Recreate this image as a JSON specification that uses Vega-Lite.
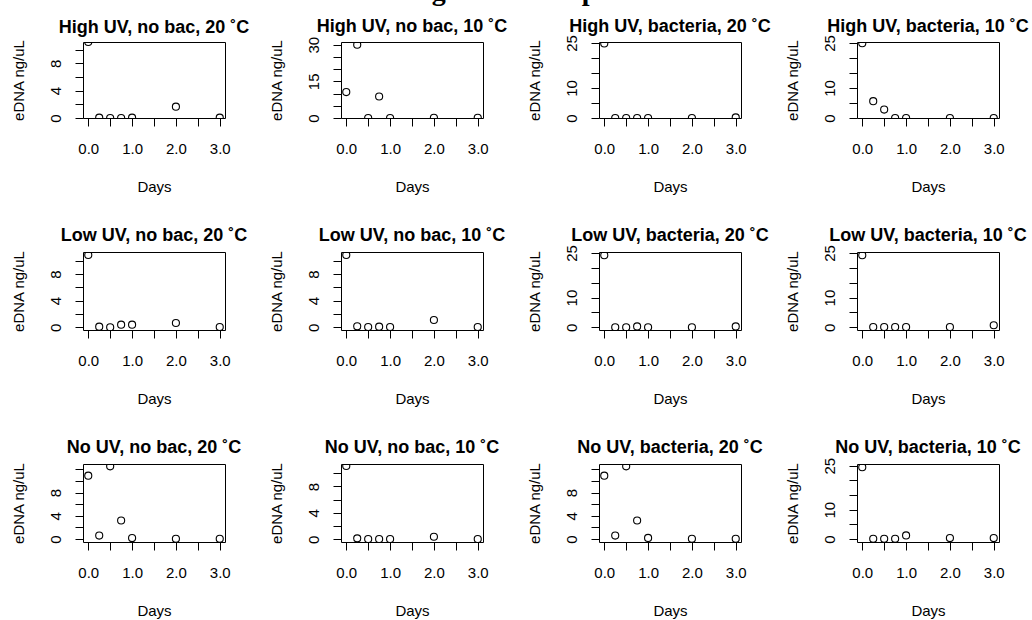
{
  "$schema": "https://vega.github.io/schema/vega-lite/v6.json",
  "padding": {"left": 10, "top": -22, "right": 0, "bottom": 0},
  "title": {"text": "eDNA degradation experiment", "font": "Liberation Serif", "fontSize": 28, "fontWeight": "bold", "anchor": "middle", "offset": -11, "dx": -12, "baseline": "alphabetic", "color": "black", "frame": "bounds"},
  "data": {"values": [
    {"panel": "High UV, no bac, 20 ˚C", "day": 0, "dna": 11.1},
    {"panel": "High UV, no bac, 20 ˚C", "day": 0.25, "dna": 0.05},
    {"panel": "High UV, no bac, 20 ˚C", "day": 0.5, "dna": 0.0},
    {"panel": "High UV, no bac, 20 ˚C", "day": 0.75, "dna": 0.0},
    {"panel": "High UV, no bac, 20 ˚C", "day": 1, "dna": 0.05},
    {"panel": "High UV, no bac, 20 ˚C", "day": 2, "dna": 1.65},
    {"panel": "High UV, no bac, 20 ˚C", "day": 3, "dna": 0.05},
    {"panel": "High UV, no bac, 10 ˚C", "day": 0, "dna": 10.6},
    {"panel": "High UV, no bac, 10 ˚C", "day": 0.25, "dna": 30.0},
    {"panel": "High UV, no bac, 10 ˚C", "day": 0.5, "dna": 0.0},
    {"panel": "High UV, no bac, 10 ˚C", "day": 0.75, "dna": 8.8},
    {"panel": "High UV, no bac, 10 ˚C", "day": 1, "dna": 0.0},
    {"panel": "High UV, no bac, 10 ˚C", "day": 2, "dna": 0.1},
    {"panel": "High UV, no bac, 10 ˚C", "day": 3, "dna": 0.1},
    {"panel": "High UV, bacteria, 20 ˚C", "day": 0, "dna": 24.8},
    {"panel": "High UV, bacteria, 20 ˚C", "day": 0.25, "dna": 0.0},
    {"panel": "High UV, bacteria, 20 ˚C", "day": 0.5, "dna": 0.0},
    {"panel": "High UV, bacteria, 20 ˚C", "day": 0.75, "dna": 0.0},
    {"panel": "High UV, bacteria, 20 ˚C", "day": 1, "dna": 0.0},
    {"panel": "High UV, bacteria, 20 ˚C", "day": 2, "dna": 0.0},
    {"panel": "High UV, bacteria, 20 ˚C", "day": 3, "dna": 0.2},
    {"panel": "High UV, bacteria, 10 ˚C", "day": 0, "dna": 24.9},
    {"panel": "High UV, bacteria, 10 ˚C", "day": 0.25, "dna": 5.6},
    {"panel": "High UV, bacteria, 10 ˚C", "day": 0.5, "dna": 2.8},
    {"panel": "High UV, bacteria, 10 ˚C", "day": 0.75, "dna": 0.0},
    {"panel": "High UV, bacteria, 10 ˚C", "day": 1, "dna": 0.0},
    {"panel": "High UV, bacteria, 10 ˚C", "day": 2, "dna": 0.0},
    {"panel": "High UV, bacteria, 10 ˚C", "day": 3, "dna": 0.0},
    {"panel": "Low UV, no bac, 20 ˚C", "day": 0, "dna": 10.85},
    {"panel": "Low UV, no bac, 20 ˚C", "day": 0.25, "dna": 0.1},
    {"panel": "Low UV, no bac, 20 ˚C", "day": 0.5, "dna": 0.0},
    {"panel": "Low UV, no bac, 20 ˚C", "day": 0.75, "dna": 0.4},
    {"panel": "Low UV, no bac, 20 ˚C", "day": 1, "dna": 0.4},
    {"panel": "Low UV, no bac, 20 ˚C", "day": 2, "dna": 0.65},
    {"panel": "Low UV, no bac, 20 ˚C", "day": 3, "dna": 0.05},
    {"panel": "Low UV, no bac, 10 ˚C", "day": 0, "dna": 10.85},
    {"panel": "Low UV, no bac, 10 ˚C", "day": 0.25, "dna": 0.15},
    {"panel": "Low UV, no bac, 10 ˚C", "day": 0.5, "dna": 0.05},
    {"panel": "Low UV, no bac, 10 ˚C", "day": 0.75, "dna": 0.1},
    {"panel": "Low UV, no bac, 10 ˚C", "day": 1, "dna": 0.05},
    {"panel": "Low UV, no bac, 10 ˚C", "day": 2, "dna": 1.1},
    {"panel": "Low UV, no bac, 10 ˚C", "day": 3, "dna": 0.05},
    {"panel": "Low UV, bacteria, 20 ˚C", "day": 0, "dna": 24.2},
    {"panel": "Low UV, bacteria, 20 ˚C", "day": 0.25, "dna": 0.0},
    {"panel": "Low UV, bacteria, 20 ˚C", "day": 0.5, "dna": 0.0},
    {"panel": "Low UV, bacteria, 20 ˚C", "day": 0.75, "dna": 0.3},
    {"panel": "Low UV, bacteria, 20 ˚C", "day": 1, "dna": 0.0},
    {"panel": "Low UV, bacteria, 20 ˚C", "day": 2, "dna": 0.0},
    {"panel": "Low UV, bacteria, 20 ˚C", "day": 3, "dna": 0.3},
    {"panel": "Low UV, bacteria, 10 ˚C", "day": 0, "dna": 24.2},
    {"panel": "Low UV, bacteria, 10 ˚C", "day": 0.25, "dna": 0.1},
    {"panel": "Low UV, bacteria, 10 ˚C", "day": 0.5, "dna": 0.1},
    {"panel": "Low UV, bacteria, 10 ˚C", "day": 0.75, "dna": 0.1},
    {"panel": "Low UV, bacteria, 10 ˚C", "day": 1, "dna": 0.1},
    {"panel": "Low UV, bacteria, 10 ˚C", "day": 2, "dna": 0.1},
    {"panel": "Low UV, bacteria, 10 ˚C", "day": 3, "dna": 0.7},
    {"panel": "No UV, no bac, 20 ˚C", "day": 0, "dna": 10.9},
    {"panel": "No UV, no bac, 20 ˚C", "day": 0.25, "dna": 0.6},
    {"panel": "No UV, no bac, 20 ˚C", "day": 0.5, "dna": 12.5},
    {"panel": "No UV, no bac, 20 ˚C", "day": 0.75, "dna": 3.2},
    {"panel": "No UV, no bac, 20 ˚C", "day": 1, "dna": 0.17},
    {"panel": "No UV, no bac, 20 ˚C", "day": 2, "dna": 0.05},
    {"panel": "No UV, no bac, 20 ˚C", "day": 3, "dna": 0.05},
    {"panel": "No UV, no bac, 10 ˚C", "day": 0, "dna": 11.1},
    {"panel": "No UV, no bac, 10 ˚C", "day": 0.25, "dna": 0.15},
    {"panel": "No UV, no bac, 10 ˚C", "day": 0.5, "dna": 0.05},
    {"panel": "No UV, no bac, 10 ˚C", "day": 0.75, "dna": 0.05},
    {"panel": "No UV, no bac, 10 ˚C", "day": 1, "dna": 0.05},
    {"panel": "No UV, no bac, 10 ˚C", "day": 2, "dna": 0.4},
    {"panel": "No UV, no bac, 10 ˚C", "day": 3, "dna": 0.05},
    {"panel": "No UV, bacteria, 20 ˚C", "day": 0, "dna": 10.9},
    {"panel": "No UV, bacteria, 20 ˚C", "day": 0.25, "dna": 0.6},
    {"panel": "No UV, bacteria, 20 ˚C", "day": 0.5, "dna": 12.5},
    {"panel": "No UV, bacteria, 20 ˚C", "day": 0.75, "dna": 3.2},
    {"panel": "No UV, bacteria, 20 ˚C", "day": 1, "dna": 0.2},
    {"panel": "No UV, bacteria, 20 ˚C", "day": 2, "dna": 0.05},
    {"panel": "No UV, bacteria, 20 ˚C", "day": 3, "dna": 0.05},
    {"panel": "No UV, bacteria, 10 ˚C", "day": 0, "dna": 24.5},
    {"panel": "No UV, bacteria, 10 ˚C", "day": 0.25, "dna": 0.1},
    {"panel": "No UV, bacteria, 10 ˚C", "day": 0.5, "dna": 0.1},
    {"panel": "No UV, bacteria, 10 ˚C", "day": 0.75, "dna": 0.1},
    {"panel": "No UV, bacteria, 10 ˚C", "day": 1, "dna": 1.25},
    {"panel": "No UV, bacteria, 10 ˚C", "day": 2, "dna": 0.35},
    {"panel": "No UV, bacteria, 10 ˚C", "day": 3, "dna": 0.35}
  ]},
  "bounds": "flush",
  "columns": 4,
  "spacing": {"row": 134, "column": 116},
  "concat": [
      {"title": {"text": "High UV, no bac, 20 ˚C", "offset": 2}, "width": 142, "height": 76,
       "transform": [{"filter": "datum.panel === 'High UV, no bac, 20 ˚C'"}],
       "mark": {"type": "point", "shape": "circle", "filled": false, "clip": true, "size": 50, "color": "black", "strokeWidth": 1.1, "opacity": 1},
       "encoding": {
         "x": {"field": "day", "type": "quantitative", "scale": {"domain": [-0.12, 3.12], "nice": false, "zero": false}, "axis": {"values": [0, 0.5, 1, 1.5, 2, 2.5, 3], "labelExpr": "datum.value % 1 === 0 ? format(datum.value, '.1f') : ''", "title": "Days"}},
         "y": {"field": "dna", "type": "quantitative", "scale": {"domain": [0, 11.1], "nice": false, "zero": false}, "axis": {"values": [0, 2, 4, 6, 8, 10], "labelExpr": "datum.value % 4 === 0 ? datum.label : ''", "title": "eDNA ng/uL"}}
       }},
      {"title": {"text": "High UV, no bac, 10 ˚C", "offset": 0}, "width": 142, "height": 76,
       "transform": [{"filter": "datum.panel === 'High UV, no bac, 10 ˚C'"}],
       "mark": {"type": "point", "shape": "circle", "filled": false, "clip": true, "size": 50, "color": "black", "strokeWidth": 1.1, "opacity": 1},
       "encoding": {
         "x": {"field": "day", "type": "quantitative", "scale": {"domain": [-0.12, 3.12], "nice": false, "zero": false}, "axis": {"values": [0, 0.5, 1, 1.5, 2, 2.5, 3], "labelExpr": "datum.value % 1 === 0 ? format(datum.value, '.1f') : ''", "title": "Days"}},
         "y": {"field": "dna", "type": "quantitative", "scale": {"domain": [0, 31.1], "nice": false, "zero": false}, "axis": {"values": [0, 5, 10, 15, 20, 25, 30], "labelExpr": "datum.value % 15 === 0 ? datum.label : ''", "title": "eDNA ng/uL"}}
       }},
      {"title": {"text": "High UV, bacteria, 20 ˚C", "offset": -1}, "width": 142, "height": 76,
       "transform": [{"filter": "datum.panel === 'High UV, bacteria, 20 ˚C'"}],
       "mark": {"type": "point", "shape": "circle", "filled": false, "clip": true, "size": 50, "color": "black", "strokeWidth": 1.1, "opacity": 1},
       "encoding": {
         "x": {"field": "day", "type": "quantitative", "scale": {"domain": [-0.12, 3.12], "nice": false, "zero": false}, "axis": {"values": [0, 0.5, 1, 1.5, 2, 2.5, 3], "labelExpr": "datum.value % 1 === 0 ? format(datum.value, '.1f') : ''", "title": "Days"}},
         "y": {"field": "dna", "type": "quantitative", "scale": {"domain": [0, 25.3], "nice": false, "zero": false}, "axis": {"values": [0, 5, 10, 15, 20, 25], "labelExpr": "indexof([0, 10, 25], datum.value) >= 0 ? datum.label : ''", "title": "eDNA ng/uL"}}
       }},
      {"title": {"text": "High UV, bacteria, 10 ˚C", "offset": -1}, "width": 142, "height": 76,
       "transform": [{"filter": "datum.panel === 'High UV, bacteria, 10 ˚C'"}],
       "mark": {"type": "point", "shape": "circle", "filled": false, "clip": true, "size": 50, "color": "black", "strokeWidth": 1.1, "opacity": 1},
       "encoding": {
         "x": {"field": "day", "type": "quantitative", "scale": {"domain": [-0.12, 3.12], "nice": false, "zero": false}, "axis": {"values": [0, 0.5, 1, 1.5, 2, 2.5, 3], "labelExpr": "datum.value % 1 === 0 ? format(datum.value, '.1f') : ''", "title": "Days"}},
         "y": {"field": "dna", "type": "quantitative", "scale": {"domain": [0, 25.3], "nice": false, "zero": false}, "axis": {"values": [0, 5, 10, 15, 20, 25], "labelExpr": "indexof([0, 10, 25], datum.value) >= 0 ? datum.label : ''", "title": "eDNA ng/uL"}}
       }},
      {"title": {"text": "Low UV, no bac, 20 ˚C", "offset": 5}, "width": 142, "height": 78,
       "transform": [{"filter": "datum.panel === 'Low UV, no bac, 20 ˚C'"}],
       "mark": {"type": "point", "shape": "circle", "filled": false, "clip": true, "size": 50, "color": "black", "strokeWidth": 1.1, "opacity": 1},
       "encoding": {
         "x": {"field": "day", "type": "quantitative", "scale": {"domain": [-0.12, 3.12], "nice": false, "zero": false}, "axis": {"values": [0, 0.5, 1, 1.5, 2, 2.5, 3], "labelExpr": "datum.value % 1 === 0 ? format(datum.value, '.1f') : ''", "title": "Days"}},
         "y": {"field": "dna", "type": "quantitative", "scale": {"domain": [-0.4, 11.3], "nice": false, "zero": false}, "axis": {"values": [0, 2, 4, 6, 8, 10], "labelExpr": "datum.value % 4 === 0 ? datum.label : ''", "title": "eDNA ng/uL"}}
       }},
      {"title": {"text": "Low UV, no bac, 10 ˚C", "offset": 5}, "width": 142, "height": 78,
       "transform": [{"filter": "datum.panel === 'Low UV, no bac, 10 ˚C'"}],
       "mark": {"type": "point", "shape": "circle", "filled": false, "clip": true, "size": 50, "color": "black", "strokeWidth": 1.1, "opacity": 1},
       "encoding": {
         "x": {"field": "day", "type": "quantitative", "scale": {"domain": [-0.12, 3.12], "nice": false, "zero": false}, "axis": {"values": [0, 0.5, 1, 1.5, 2, 2.5, 3], "labelExpr": "datum.value % 1 === 0 ? format(datum.value, '.1f') : ''", "title": "Days"}},
         "y": {"field": "dna", "type": "quantitative", "scale": {"domain": [-0.4, 11.3], "nice": false, "zero": false}, "axis": {"values": [0, 2, 4, 6, 8, 10], "labelExpr": "datum.value % 4 === 0 ? datum.label : ''", "title": "eDNA ng/uL"}}
       }},
      {"title": {"text": "Low UV, bacteria, 20 ˚C", "offset": 0}, "width": 142, "height": 78,
       "transform": [{"filter": "datum.panel === 'Low UV, bacteria, 20 ˚C'"}],
       "mark": {"type": "point", "shape": "circle", "filled": false, "clip": true, "size": 50, "color": "black", "strokeWidth": 1.1, "opacity": 1},
       "encoding": {
         "x": {"field": "day", "type": "quantitative", "scale": {"domain": [-0.12, 3.12], "nice": false, "zero": false}, "axis": {"values": [0, 0.5, 1, 1.5, 2, 2.5, 3], "labelExpr": "datum.value % 1 === 0 ? format(datum.value, '.1f') : ''", "title": "Days"}},
         "y": {"field": "dna", "type": "quantitative", "scale": {"domain": [-0.9, 25.3], "nice": false, "zero": false}, "axis": {"values": [0, 5, 10, 15, 20, 25], "labelExpr": "indexof([0, 10, 25], datum.value) >= 0 ? datum.label : ''", "title": "eDNA ng/uL"}}
       }},
      {"title": {"text": "Low UV, bacteria, 10 ˚C", "offset": 0}, "width": 142, "height": 78,
       "transform": [{"filter": "datum.panel === 'Low UV, bacteria, 10 ˚C'"}],
       "mark": {"type": "point", "shape": "circle", "filled": false, "clip": true, "size": 50, "color": "black", "strokeWidth": 1.1, "opacity": 1},
       "encoding": {
         "x": {"field": "day", "type": "quantitative", "scale": {"domain": [-0.12, 3.12], "nice": false, "zero": false}, "axis": {"values": [0, 0.5, 1, 1.5, 2, 2.5, 3], "labelExpr": "datum.value % 1 === 0 ? format(datum.value, '.1f') : ''", "title": "Days"}},
         "y": {"field": "dna", "type": "quantitative", "scale": {"domain": [-0.9, 25.3], "nice": false, "zero": false}, "axis": {"values": [0, 5, 10, 15, 20, 25], "labelExpr": "indexof([0, 10, 25], datum.value) >= 0 ? datum.label : ''", "title": "eDNA ng/uL"}}
       }},
      {"title": {"text": "No UV, no bac, 20 ˚C", "offset": 5}, "width": 142, "height": 78,
       "transform": [{"filter": "datum.panel === 'No UV, no bac, 20 ˚C'"}],
       "mark": {"type": "point", "shape": "circle", "filled": false, "clip": true, "size": 50, "color": "black", "strokeWidth": 1.1, "opacity": 1},
       "encoding": {
         "x": {"field": "day", "type": "quantitative", "scale": {"domain": [-0.12, 3.12], "nice": false, "zero": false}, "axis": {"values": [0, 0.5, 1, 1.5, 2, 2.5, 3], "labelExpr": "datum.value % 1 === 0 ? format(datum.value, '.1f') : ''", "title": "Days"}},
         "y": {"field": "dna", "type": "quantitative", "scale": {"domain": [-0.5, 12.9], "nice": false, "zero": false}, "axis": {"values": [0, 2, 4, 6, 8, 10, 12], "labelExpr": "datum.value % 4 === 0 && datum.value < 12 ? datum.label : ''", "title": "eDNA ng/uL"}}
       }},
      {"title": {"text": "No UV, no bac, 10 ˚C", "offset": 5}, "width": 142, "height": 78,
       "transform": [{"filter": "datum.panel === 'No UV, no bac, 10 ˚C'"}],
       "mark": {"type": "point", "shape": "circle", "filled": false, "clip": true, "size": 50, "color": "black", "strokeWidth": 1.1, "opacity": 1},
       "encoding": {
         "x": {"field": "day", "type": "quantitative", "scale": {"domain": [-0.12, 3.12], "nice": false, "zero": false}, "axis": {"values": [0, 0.5, 1, 1.5, 2, 2.5, 3], "labelExpr": "datum.value % 1 === 0 ? format(datum.value, '.1f') : ''", "title": "Days"}},
         "y": {"field": "dna", "type": "quantitative", "scale": {"domain": [-0.4, 11.4], "nice": false, "zero": false}, "axis": {"values": [0, 2, 4, 6, 8, 10], "labelExpr": "datum.value % 4 === 0 ? datum.label : ''", "title": "eDNA ng/uL"}}
       }},
      {"title": {"text": "No UV, bacteria, 20 ˚C", "offset": 5}, "width": 142, "height": 78,
       "transform": [{"filter": "datum.panel === 'No UV, bacteria, 20 ˚C'"}],
       "mark": {"type": "point", "shape": "circle", "filled": false, "clip": true, "size": 50, "color": "black", "strokeWidth": 1.1, "opacity": 1},
       "encoding": {
         "x": {"field": "day", "type": "quantitative", "scale": {"domain": [-0.12, 3.12], "nice": false, "zero": false}, "axis": {"values": [0, 0.5, 1, 1.5, 2, 2.5, 3], "labelExpr": "datum.value % 1 === 0 ? format(datum.value, '.1f') : ''", "title": "Days"}},
         "y": {"field": "dna", "type": "quantitative", "scale": {"domain": [-0.5, 12.9], "nice": false, "zero": false}, "axis": {"values": [0, 2, 4, 6, 8, 10, 12], "labelExpr": "datum.value % 4 === 0 && datum.value < 12 ? datum.label : ''", "title": "eDNA ng/uL"}}
       }},
      {"title": {"text": "No UV, bacteria, 10 ˚C", "offset": 0}, "width": 142, "height": 78,
       "transform": [{"filter": "datum.panel === 'No UV, bacteria, 10 ˚C'"}],
       "mark": {"type": "point", "shape": "circle", "filled": false, "clip": true, "size": 50, "color": "black", "strokeWidth": 1.1, "opacity": 1},
       "encoding": {
         "x": {"field": "day", "type": "quantitative", "scale": {"domain": [-0.12, 3.12], "nice": false, "zero": false}, "axis": {"values": [0, 0.5, 1, 1.5, 2, 2.5, 3], "labelExpr": "datum.value % 1 === 0 ? format(datum.value, '.1f') : ''", "title": "Days"}},
         "y": {"field": "dna", "type": "quantitative", "scale": {"domain": [-1.0, 25.6], "nice": false, "zero": false}, "axis": {"values": [0, 5, 10, 15, 20, 25], "labelExpr": "indexof([0, 10, 25], datum.value) >= 0 ? datum.label : ''", "title": "eDNA ng/uL"}}
       }}
  ],
  "config": {
    "font": "Liberation Sans",
    "background": "white",
    "view": {"stroke": "black", "strokeWidth": 1},
    "axis": {"domain": false, "grid": false, "ticks": true, "tickColor": "black", "tickSize": 8, "tickWidth": 1, "labelColor": "black", "labelFont": "Liberation Sans", "labelFontSize": 15, "titleFont": "Liberation Sans", "titleFontSize": 15, "titleFontWeight": "normal", "titleColor": "black", "labelOverlap": false, "labelFlush": false},
    "axisX": {"labelPadding": 15, "titlePadding": 23},
    "axisY": {"labelAngle": -90, "labelAlign": "center", "labelBaseline": "bottom", "labelPadding": 12, "titlePadding": 22},
    "title": {"font": "Liberation Sans", "fontSize": 18, "fontWeight": "bold", "color": "black", "offset": 10, "baseline": "alphabetic", "anchor": "middle", "frame": "group"}
  }
}
